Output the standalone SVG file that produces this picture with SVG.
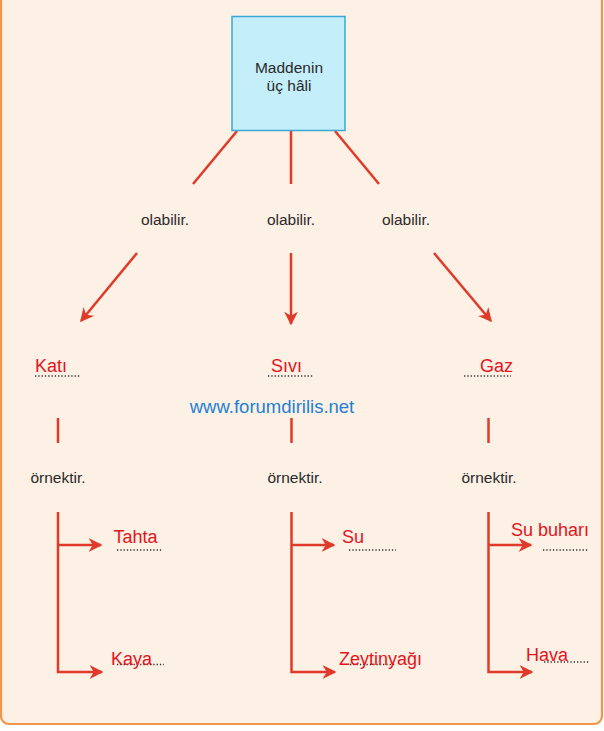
<svg xmlns="http://www.w3.org/2000/svg" width="604" height="731" viewBox="0 0 604 731">
<style>
.bk{font-family:"Liberation Sans",Arial,sans-serif;font-size:15.5px;fill:#2a2a2a;}
.rd{font-family:"Liberation Sans",Arial,sans-serif;font-size:18px;fill:#e3151c;}
.ln{stroke:#e03a2a;stroke-width:2.5;fill:none;}
.dot{stroke:#333;stroke-width:1.3;stroke-dasharray:1.3 2;fill:none;}
</style>
<defs>
<marker id="ah" viewBox="0 0 10 10" refX="9" refY="5" markerWidth="5.5" markerHeight="5.5" orient="auto" markerUnits="strokeWidth">
<path d="M0,0 L10,5 L0,10 L3,5 z" fill="#e03a2a"/>
</marker>
</defs>
<rect x="1" y="-12" width="601" height="736" rx="8" fill="#fdf0e5" stroke="#f0954a" stroke-width="2.2"/>

<g id="connectors">
<line class="ln" x1="237" y1="131" x2="193" y2="184"/>
<line class="ln" x1="291" y1="131" x2="291" y2="184"/>
<line class="ln" x1="335" y1="131" x2="379" y2="184"/>
<line class="ln" x1="137" y1="253" x2="81" y2="321" marker-end="url(#ah)"/>
<line class="ln" x1="291" y1="253" x2="291" y2="324" marker-end="url(#ah)"/>
<line class="ln" x1="434" y1="253" x2="491" y2="321" marker-end="url(#ah)"/>
<line class="ln" x1="58" y1="418" x2="58" y2="443"/>
<line class="ln" x1="291.5" y1="418" x2="291.5" y2="443"/>
<line class="ln" x1="488.5" y1="418" x2="488.5" y2="443"/>
<path class="ln" d="M58,512 V672 H101"/>
<path class="ln" d="M58,545 H101" marker-end="url(#ah)"/>
<path class="ln" d="M101,672 H102" marker-end="url(#ah)"/>
<path class="ln" d="M291.5,512 V672 H334"/>
<path class="ln" d="M291.5,545 H334" marker-end="url(#ah)"/>
<path class="ln" d="M334,672 H335" marker-end="url(#ah)"/>
<path class="ln" d="M488.5,512 V672 H531"/>
<path class="ln" d="M488.5,545 H531" marker-end="url(#ah)"/>
<path class="ln" d="M531,672 H532" marker-end="url(#ah)"/>
</g>

<g id="root">
<rect x="232" y="16.5" width="113" height="114" fill="#c4eefa" stroke="#3aa8d4" stroke-width="1.5"/>
<text class="bk" x="289" y="73" text-anchor="middle">Maddenin</text>
<text class="bk" x="289" y="91" text-anchor="middle">üç hâli</text>
</g>

<g id="olabilir1"><text class="bk" x="165" y="225" text-anchor="middle">olabilir.</text></g>
<g id="olabilir2"><text class="bk" x="291" y="225" text-anchor="middle">olabilir.</text></g>
<g id="olabilir3"><text class="bk" x="406" y="225" text-anchor="middle">olabilir.</text></g>

<g id="kati">
<line class="dot" x1="35" y1="376" x2="80" y2="376"/>
<text class="rd" x="35" y="372">Katı</text>
</g>
<g id="sivi">
<line class="dot" x1="268" y1="376" x2="314" y2="376"/>
<text class="rd" x="271" y="372">Sıvı</text>
</g>
<g id="gaz">
<line class="dot" x1="464" y1="376" x2="511" y2="376"/>
<text class="rd" x="480" y="372">Gaz</text>
</g>

<g id="watermark"><text x="272" y="413" text-anchor="middle" style="font-family:'Liberation Sans',Arial,sans-serif;font-size:18.5px;fill:#1f80d6;">www.forumdirilis.net</text></g>

<g id="ornek1"><text class="bk" x="58" y="483" text-anchor="middle">örnektir.</text></g>
<g id="ornek2"><text class="bk" x="295" y="483" text-anchor="middle">örnektir.</text></g>
<g id="ornek3"><text class="bk" x="489" y="483" text-anchor="middle">örnektir.</text></g>

<g id="tahta">
<line class="dot" x1="117" y1="550" x2="163" y2="550"/>
<text class="rd" x="113.5" y="543">Tahta</text>
</g>
<g id="kaya">
<line class="dot" x1="117" y1="664.5" x2="164" y2="664.5"/>
<text class="rd" x="111" y="665">Kaya</text>
</g>
<g id="su">
<line class="dot" x1="349" y1="550" x2="396" y2="550"/>
<text class="rd" x="342" y="543">Su</text>
</g>
<g id="zeytinyagi">
<line class="dot" x1="350" y1="664.5" x2="396" y2="664.5"/>
<text class="rd" x="339" y="665">Zeytinyağı</text>
</g>
<g id="subuhari">
<line class="dot" x1="543" y1="550" x2="589" y2="550"/>
<text class="rd" x="511" y="536">Su buharı</text>
</g>
<g id="hava">
<line class="dot" x1="544" y1="662" x2="590" y2="662"/>
<text class="rd" x="526" y="661">Hava</text>
</g>
</svg>
